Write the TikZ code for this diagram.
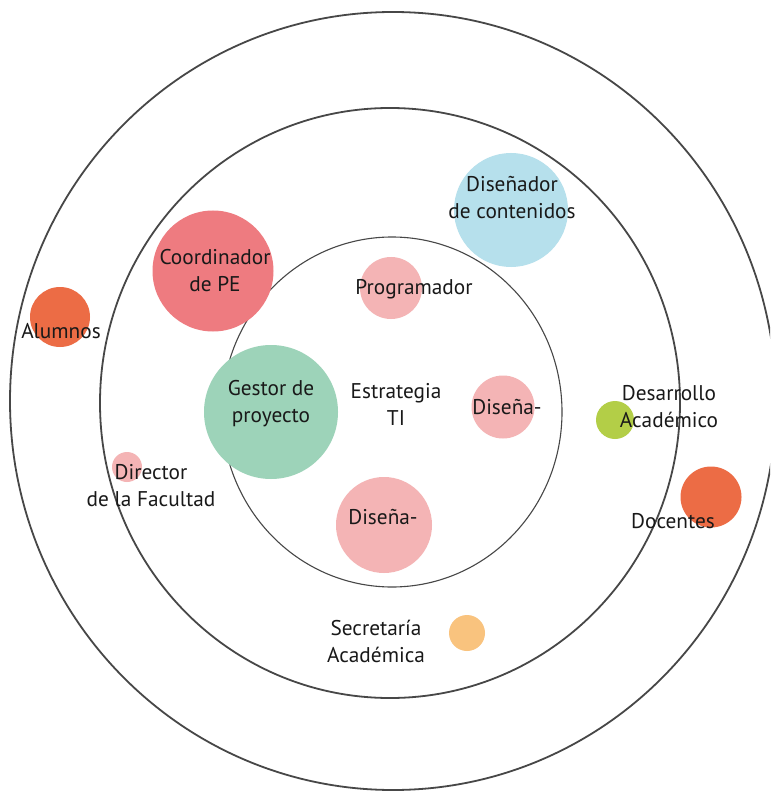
\documentclass[tikz,border=0pt]{standalone}
\usepackage{fontspec}
\setmainfont{PT Sans}
\usetikzlibrary{shapes.geometric}
\definecolor{ringcol}{HTML}{474747}
\definecolor{coordcol}{HTML}{EE7B80}
\definecolor{gestorcol}{HTML}{9DD3B9}
\definecolor{bluecol}{HTML}{B6E0EC}
\definecolor{pinkcol}{HTML}{F4B4B5}
\definecolor{orangecol}{HTML}{EC6C45}
\definecolor{limecol}{HTML}{B3CE47}
\definecolor{peachcol}{HTML}{F9C37E}
\tikzset{
  ring/.style={draw=ringcol, line width=1.8pt},
  innerring/.style={draw=ringcol, line width=1.1pt},
  bubble/.style={circle, inner sep=0pt, draw=none},
  lbl/.style={font=\fontsize{21.3}{27}\selectfont, align=center, inner sep=0pt, text=black!90}
}
\begin{document}
\begin{tikzpicture}[x=1pt, y=-1pt]
\useasboundingbox (0,0) rectangle (770,791);
\clip (0,0) rectangle (770,791);
\fill[white] (0,0) rectangle (770,791);
% stakeholder rings
\draw[ring] (393,401) ellipse [x radius=383, y radius=389];
\draw[ring] (390,403) ellipse [x radius=290, y radius=295];
\draw[innerring] (392,412) ellipse [x radius=170, y radius=175];
% role bubbles
\node[bubble, fill=coordcol,  minimum size=121pt] (coord)   at (213,271) {};
\node[bubble, fill=gestorcol, minimum size=134pt] (gestor)  at (271,412) {};
\node[bubble, fill=bluecol,   minimum size=114pt] (dcont)   at (511,210) {};
\node[bubble, fill=pinkcol,   minimum size=62pt]  (prog)    at (391,288) {};
\node[bubble, fill=pinkcol,   minimum size=63pt]  (disA)    at (503,407) {};
\node[bubble, fill=pinkcol,   minimum size=96pt]  (disB)    at (384,525) {};
\node[bubble, fill=orangecol, minimum size=60pt]  (alum)    at (60,317) {};
\node[bubble, fill=pinkcol,   minimum size=30pt]  (dirfac)  at (127,467) {};
\node[bubble, fill=limecol,   minimum size=38pt]  (desac)   at (615,420) {};
\node[bubble, fill=orangecol, minimum size=61pt]  (doc)     at (711,497) {};
\node[bubble, fill=peachcol,  minimum size=36pt]  (secac)   at (467,633) {};
% labels
\node[lbl] (tcoord)  at (215,271) {Coordinador\\de PE};
\node[lbl] (tgestor) at (271,404) {Gestor de\\proyecto};
\node[lbl] (tdcont)  at (512,198) {Diseñador\\de contenidos};
\node[lbl] (tprog)   at (414,289) {Programador};
\node[lbl] (tdisA)   at (507,407) {Diseña-};
\node[lbl] (tdisB)   at (383,517) {Diseña-};
\node[lbl] (testr)   at (396,404) {Estrategia\\TI};
\node[lbl] (talum)   at (61,331)  {Alumnos};
\node[lbl] (tdirfac) at (151,486) {Director\\de la Facultad};
\node[lbl] (tdesac)  at (669,407) {Desarrollo\\Académico};
\node[lbl] (tdoc)    at (673,521) {Docentes};
\node[lbl] (tsecac)  at (376,641) {Secretaría\\Académica};
\end{tikzpicture}
\end{document}
